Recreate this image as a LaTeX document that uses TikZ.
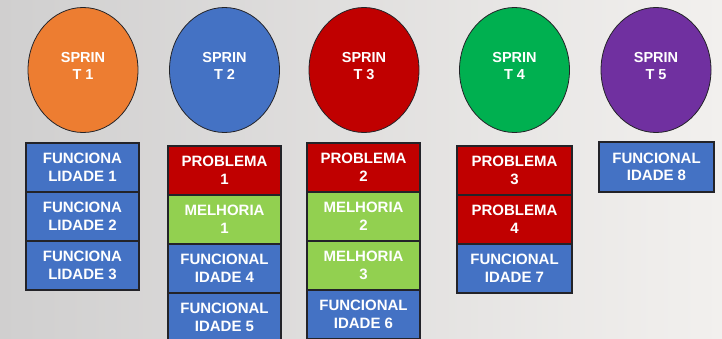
\documentclass[tikz,border=0pt]{standalone}
\usepackage{fontspec}
\setmainfont{Liberation Sans}
\usetikzlibrary{shapes.geometric,positioning}

\definecolor{orangeS}{RGB}{237,125,49}
\definecolor{blueS}{RGB}{68,114,196}
\definecolor{redS}{RGB}{192,0,0}
\definecolor{greenS}{RGB}{0,176,80}
\definecolor{purpleS}{RGB}{112,48,160}
\definecolor{lightgreenS}{RGB}{146,208,80}
\definecolor{edgeS}{RGB}{35,35,40}

\tikzset{
  sprint/.style={ellipse, draw=edgeS, line width=0.8pt, minimum width=110pt, minimum height=125pt,
    text=white, font=\bfseries\fontsize{14.5}{17.5}\selectfont, align=center, inner sep=0pt, text depth=8pt},
  card/.style={rectangle, draw=edgeS, line width=1.3pt, minimum width=113pt, minimum height=49pt,
    text=white, font=\bfseries\fontsize{15}{17.5}\selectfont, align=center, inner sep=0pt, outer sep=0pt},
  func/.style={card, fill=blueS},
  prob/.style={card, fill=redS},
  melh/.style={card, fill=lightgreenS},
}

\begin{document}
\begin{tikzpicture}[x=1pt,y=-1pt]

\useasboundingbox (0,0) rectangle (722,338);
\clip (0,0) rectangle (722,338);
\shade[left color={rgb,255:red,208;green,207;blue,207}, right color={rgb,255:red,242;green,240;blue,238}] (0,0) rectangle (722,338);

% sprints
\node[sprint, fill=orangeS] (s1) at (83,70) {SPRIN\\T 1};
\node[sprint, fill=blueS] (s2) at (224.5,70) {SPRIN\\T 2};
\node[sprint, fill=redS] (s3) at (364,70) {SPRIN\\T 3};
\node[sprint, fill=greenS] (s4) at (514.5,70) {SPRIN\\T 4};
\node[sprint, fill=purpleS] (s5) at (656,70) {SPRIN\\T 5};

% sprint 1
\node[func] (f1) at (82.5,167.5) {FUNCIONA\\LIDADE 1};
\node[func, below=0pt of f1] (f2) {FUNCIONA\\LIDADE 2};
\node[func, below=0pt of f2] (f3) {FUNCIONA\\LIDADE 3};

% sprint 2
\node[prob] (p1) at (224.5,170.5) {PROBLEMA\\1};
\node[melh, below=0pt of p1] (m1) {MELHORIA\\1};
\node[func, below=0pt of m1] (f4) {FUNCIONAL\\IDADE 4};
\node[func, below=0pt of f4] (f5) {FUNCIONAL\\IDADE 5};

% sprint 3
\node[prob] (p2) at (363.5,167.5) {PROBLEMA\\2};
\node[melh, below=0pt of p2] (m2) {MELHORIA\\2};
\node[melh, below=0pt of m2] (m3) {MELHORIA\\3};
\node[func, below=0pt of m3] (f6) {FUNCIONAL\\IDADE 6};

% sprint 4
\node[prob, minimum width=115pt] (p3) at (514.5,170.5) {PROBLEMA\\3};
\node[prob, minimum width=115pt, below=0pt of p3] (p4) {PROBLEMA\\4};
\node[func, minimum width=115pt, below=0pt of p4] (f7) {FUNCIONAL\\IDADE 7};

% sprint 5
\node[func, minimum width=115pt, minimum height=50pt] (f8) at (656.5,167) {FUNCIONAL\\IDADE 8};

\end{tikzpicture}
\end{document}
